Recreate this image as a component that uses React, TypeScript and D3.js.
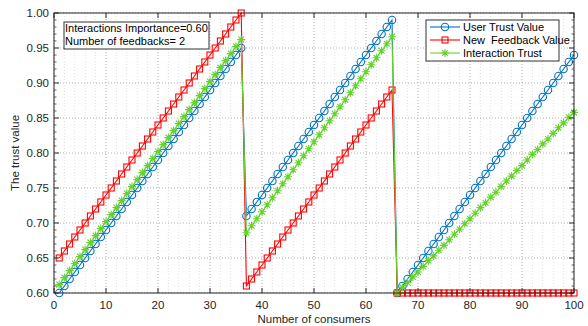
import * as d3 from "d3";

// x positions: consumers 1..100
const consumers: number[] = d3.range(1, 101);

const userTrust: number[] = [
  0.60, 0.61, 0.62, 0.63, 0.64, 0.65, 0.66, 0.67, 0.68, 0.69,
  0.70, 0.71, 0.72, 0.73, 0.74, 0.75, 0.76, 0.77, 0.78, 0.79,
  0.80, 0.81, 0.82, 0.83, 0.84, 0.85, 0.86, 0.87, 0.88, 0.89,
  0.90, 0.91, 0.92, 0.93, 0.94, 0.95,
  0.71, 0.72, 0.73, 0.74, 0.75, 0.76, 0.77, 0.78, 0.79, 0.80,
  0.81, 0.82, 0.83, 0.84, 0.85, 0.86, 0.87, 0.88, 0.89, 0.90,
  0.91, 0.92, 0.93, 0.94, 0.95, 0.96, 0.97, 0.98, 0.99,
  0.60, 0.61, 0.62, 0.63, 0.64, 0.65, 0.66, 0.67, 0.68, 0.69,
  0.70, 0.71, 0.72, 0.73, 0.74, 0.75, 0.76, 0.77, 0.78, 0.79,
  0.80, 0.81, 0.82, 0.83, 0.84, 0.85, 0.86, 0.87, 0.88, 0.89,
  0.90, 0.91, 0.92, 0.93, 0.94,
];

const newFeedback: number[] = [
  0.65, 0.66, 0.67, 0.68, 0.69, 0.70, 0.71, 0.72, 0.73, 0.74,
  0.75, 0.76, 0.77, 0.78, 0.79, 0.80, 0.81, 0.82, 0.83, 0.84,
  0.85, 0.86, 0.87, 0.88, 0.89, 0.90, 0.91, 0.92, 0.93, 0.94,
  0.95, 0.96, 0.97, 0.98, 0.99, 1.00,
  0.61, 0.62, 0.63, 0.64, 0.65, 0.66, 0.67, 0.68, 0.69, 0.70,
  0.71, 0.72, 0.73, 0.74, 0.75, 0.76, 0.77, 0.78, 0.79, 0.80,
  0.81, 0.82, 0.83, 0.84, 0.85, 0.86, 0.87, 0.88, 0.89,
  0.60, 0.60, 0.60, 0.60, 0.60, 0.60, 0.60, 0.60, 0.60, 0.60,
  0.60, 0.60, 0.60, 0.60, 0.60, 0.60, 0.60, 0.60, 0.60, 0.60,
  0.60, 0.60, 0.60, 0.60, 0.60, 0.60, 0.60, 0.60, 0.60, 0.60,
  0.60, 0.60, 0.60, 0.60, 0.60,
];

const interactionTrust: number[] = [
  0.612, 0.622, 0.632, 0.642, 0.652, 0.662, 0.672, 0.682, 0.692, 0.702,
  0.712, 0.722, 0.732, 0.742, 0.752, 0.762, 0.772, 0.782, 0.792, 0.802,
  0.812, 0.822, 0.832, 0.842, 0.852, 0.862, 0.872, 0.882, 0.892, 0.902,
  0.912, 0.922, 0.932, 0.942, 0.952, 0.962,
  0.686, 0.696, 0.706, 0.716, 0.726, 0.736, 0.746, 0.756, 0.766, 0.776,
  0.786, 0.796, 0.806, 0.816, 0.826, 0.836, 0.846, 0.856, 0.866, 0.876,
  0.886, 0.896, 0.906, 0.916, 0.926, 0.936, 0.946, 0.956, 0.966,
  0.600, 0.608, 0.615, 0.623, 0.630, 0.638, 0.646, 0.653, 0.661, 0.668,
  0.676, 0.684, 0.691, 0.699, 0.706, 0.714, 0.722, 0.729, 0.737, 0.744,
  0.752, 0.760, 0.767, 0.775, 0.782, 0.790, 0.798, 0.805, 0.813, 0.820,
  0.828, 0.836, 0.843, 0.851, 0.858,
];

const xTicks: number[] = [0, 10, 20, 30, 40, 50, 60, 70, 80, 90, 100];
const yTicks: number[] = [0.6, 0.65, 0.7, 0.75, 0.8, 0.85, 0.9, 0.95, 1.0];
const seriesNames: string[] = ["User Trust Value", "New  Feedback Value", "Interaction Trust"];
const noteLines: string[] = ["Interactions Importance=0.60", "Number of feedbacks= 2"];

const W = 588;
const H = 326;
const margin = { left: 54, right: 14, top: 13, bottom: 33 };
const FONT = "Liberation Sans, Arial, sans-serif";
const BLUE = "#0072BD";
const RED = "#FF0000";
const GREEN = "#66D22E";
const AXIS = "#262626";

const starPath = "M-4,0H4M0,-4V4M-2.9,-2.9L2.9,2.9M-2.9,2.9L2.9,-2.9";

function Marker({ kind, color }: { kind: string; color: string }) {
  if (kind === "circle") return <circle r={3.7} fill="none" stroke={color} strokeWidth={1.1} />;
  if (kind === "square") return <rect x={-3} y={-3} width={6} height={6} fill="none" stroke={color} strokeWidth={1.1} />;
  return <path d={starPath} fill="none" stroke={color} strokeWidth={1.1} />;
}

export default function App() {
  const x = d3.scaleLinear().domain([0, 100]).range([margin.left, W - margin.right]);
  const y = d3.scaleLinear().domain([0.6, 1.0]).range([H - margin.bottom, margin.top]);

  const series = [
    { name: seriesNames[0], values: userTrust, color: BLUE, kind: "circle" },
    { name: seriesNames[1], values: newFeedback, color: RED, kind: "square" },
    { name: seriesNames[2], values: interactionTrust, color: GREEN, kind: "star" },
  ];

  const line = d3
    .line<number>()
    .x((_, i) => x(consumers[i]))
    .y((d) => y(d));

  const x0 = x(0), x1 = x(100), y0 = y(0.6), y1 = y(1.0);
  const minorX = d3.range(0, 101, 2).filter((v) => v % 10 !== 0);
  const minorY = d3.range(60, 101, 1).map((v) => v / 100).filter((v) => Math.round(v * 100) % 5 !== 0);

  const legX = 426, legY = 20;

  return (
    <svg width={W} height={H} style={{ position: "absolute", left: 0, top: 0, background: "#fff" }} fontFamily={FONT}>
      <rect x={0} y={0} width={W} height={H} fill="#fff" />
      {/* minor grid */}
      {minorX.map((v) => (
        <line key={"mx" + v} x1={x(v)} x2={x(v)} y1={y1} y2={y0} stroke="#d8d8d8" strokeWidth={0.8} strokeDasharray="1,2" />
      ))}
      {minorY.map((v) => (
        <line key={"my" + v} x1={x0} x2={x1} y1={y(v)} y2={y(v)} stroke="#ececec" strokeWidth={0.6} strokeDasharray="1,3" />
      ))}
      {/* major grid */}
      {xTicks.map((v) => (
        <line key={"gx" + v} x1={x(v)} x2={x(v)} y1={y1} y2={y0} stroke="#a8a8a8" strokeWidth={0.9} strokeDasharray="1,2" />
      ))}
      {yTicks.map((v) => (
        <line key={"gy" + v} x1={x0} x2={x1} y1={y(v)} y2={y(v)} stroke="#a8a8a8" strokeWidth={0.9} strokeDasharray="1,2" />
      ))}

      {/* series */}
      {series.map((s) => (
        <g key={s.name}>
          <path d={line(s.values) ?? ""} fill="none" stroke={s.color} strokeWidth={1.1} />
          {s.values.map((v, i) => (
            <g key={i} transform={`translate(${x(consumers[i])},${y(v)})`}>
              <Marker kind={s.kind} color={s.color} />
            </g>
          ))}
        </g>
      ))}

      {/* frame and ticks */}
      <rect x={x0} y={y1} width={x1 - x0} height={y0 - y1} fill="none" stroke={AXIS} strokeWidth={1} />
      {xTicks.map((v) => (
        <g key={"tx" + v}>
          <line x1={x(v)} x2={x(v)} y1={y0} y2={y0 - 5} stroke={AXIS} />
          <line x1={x(v)} x2={x(v)} y1={y1} y2={y1 + 5} stroke={AXIS} />
          <text x={x(v)} y={y0 + 16} textAnchor="middle" fontSize={11.5} fill={AXIS}>{v}</text>
        </g>
      ))}
      {minorY.map((v) => (
        <g key={"mty" + v}>
          <line x1={x0} x2={x0 + 2.5} y1={y(v)} y2={y(v)} stroke={AXIS} strokeWidth={0.7} />
          <line x1={x1} x2={x1 - 2.5} y1={y(v)} y2={y(v)} stroke={AXIS} strokeWidth={0.7} />
        </g>
      ))}
      {yTicks.map((v) => (
        <g key={"ty" + v}>
          <line x1={x0} x2={x0 + 5} y1={y(v)} y2={y(v)} stroke={AXIS} />
          <line x1={x1} x2={x1 - 5} y1={y(v)} y2={y(v)} stroke={AXIS} />
          <text x={x0 - 5} y={y(v) + 4} textAnchor="end" fontSize={11.5} fill={AXIS}>{v.toFixed(2)}</text>
        </g>
      ))}

      {/* axis labels */}
      <text x={(x0 + x1) / 2} y={H - 3} textAnchor="middle" fontSize={11.5} fill={AXIS}>Number of consumers</text>
      <text transform={`translate(19,${(y0 + y1) / 2}) rotate(-90)`} textAnchor="middle" fontSize={11.5} fill={AXIS}>The trust value</text>

      {/* annotation box */}
      <rect x={64} y={22} width={145} height={27} fill="#fff" stroke="#333" strokeWidth={1} />
      {noteLines.map((t, i) => (
        <text key={t} x={65} y={32 + i * 12.5} fontSize={11} fill="#000">{t}</text>
      ))}

      {/* legend */}
      <rect x={legX} y={legY} width={133} height={41} fill="#fff" stroke="#333" strokeWidth={1} />
      {series.map((s, i) => {
        const ly = legY + 7 + i * 13;
        return (
          <g key={"leg" + s.name}>
            <line x1={legX + 4} x2={legX + 34} y1={ly} y2={ly} stroke={s.color} strokeWidth={1.1} />
            <g transform={`translate(${legX + 19},${ly})`}>
              <Marker kind={s.kind} color={s.color} />
            </g>
            <text x={legX + 37} y={ly + 4} fontSize={11} fill="#000" style={{ whiteSpace: "pre" }}>{s.name}</text>
          </g>
        );
      })}
    </svg>
  );
}
